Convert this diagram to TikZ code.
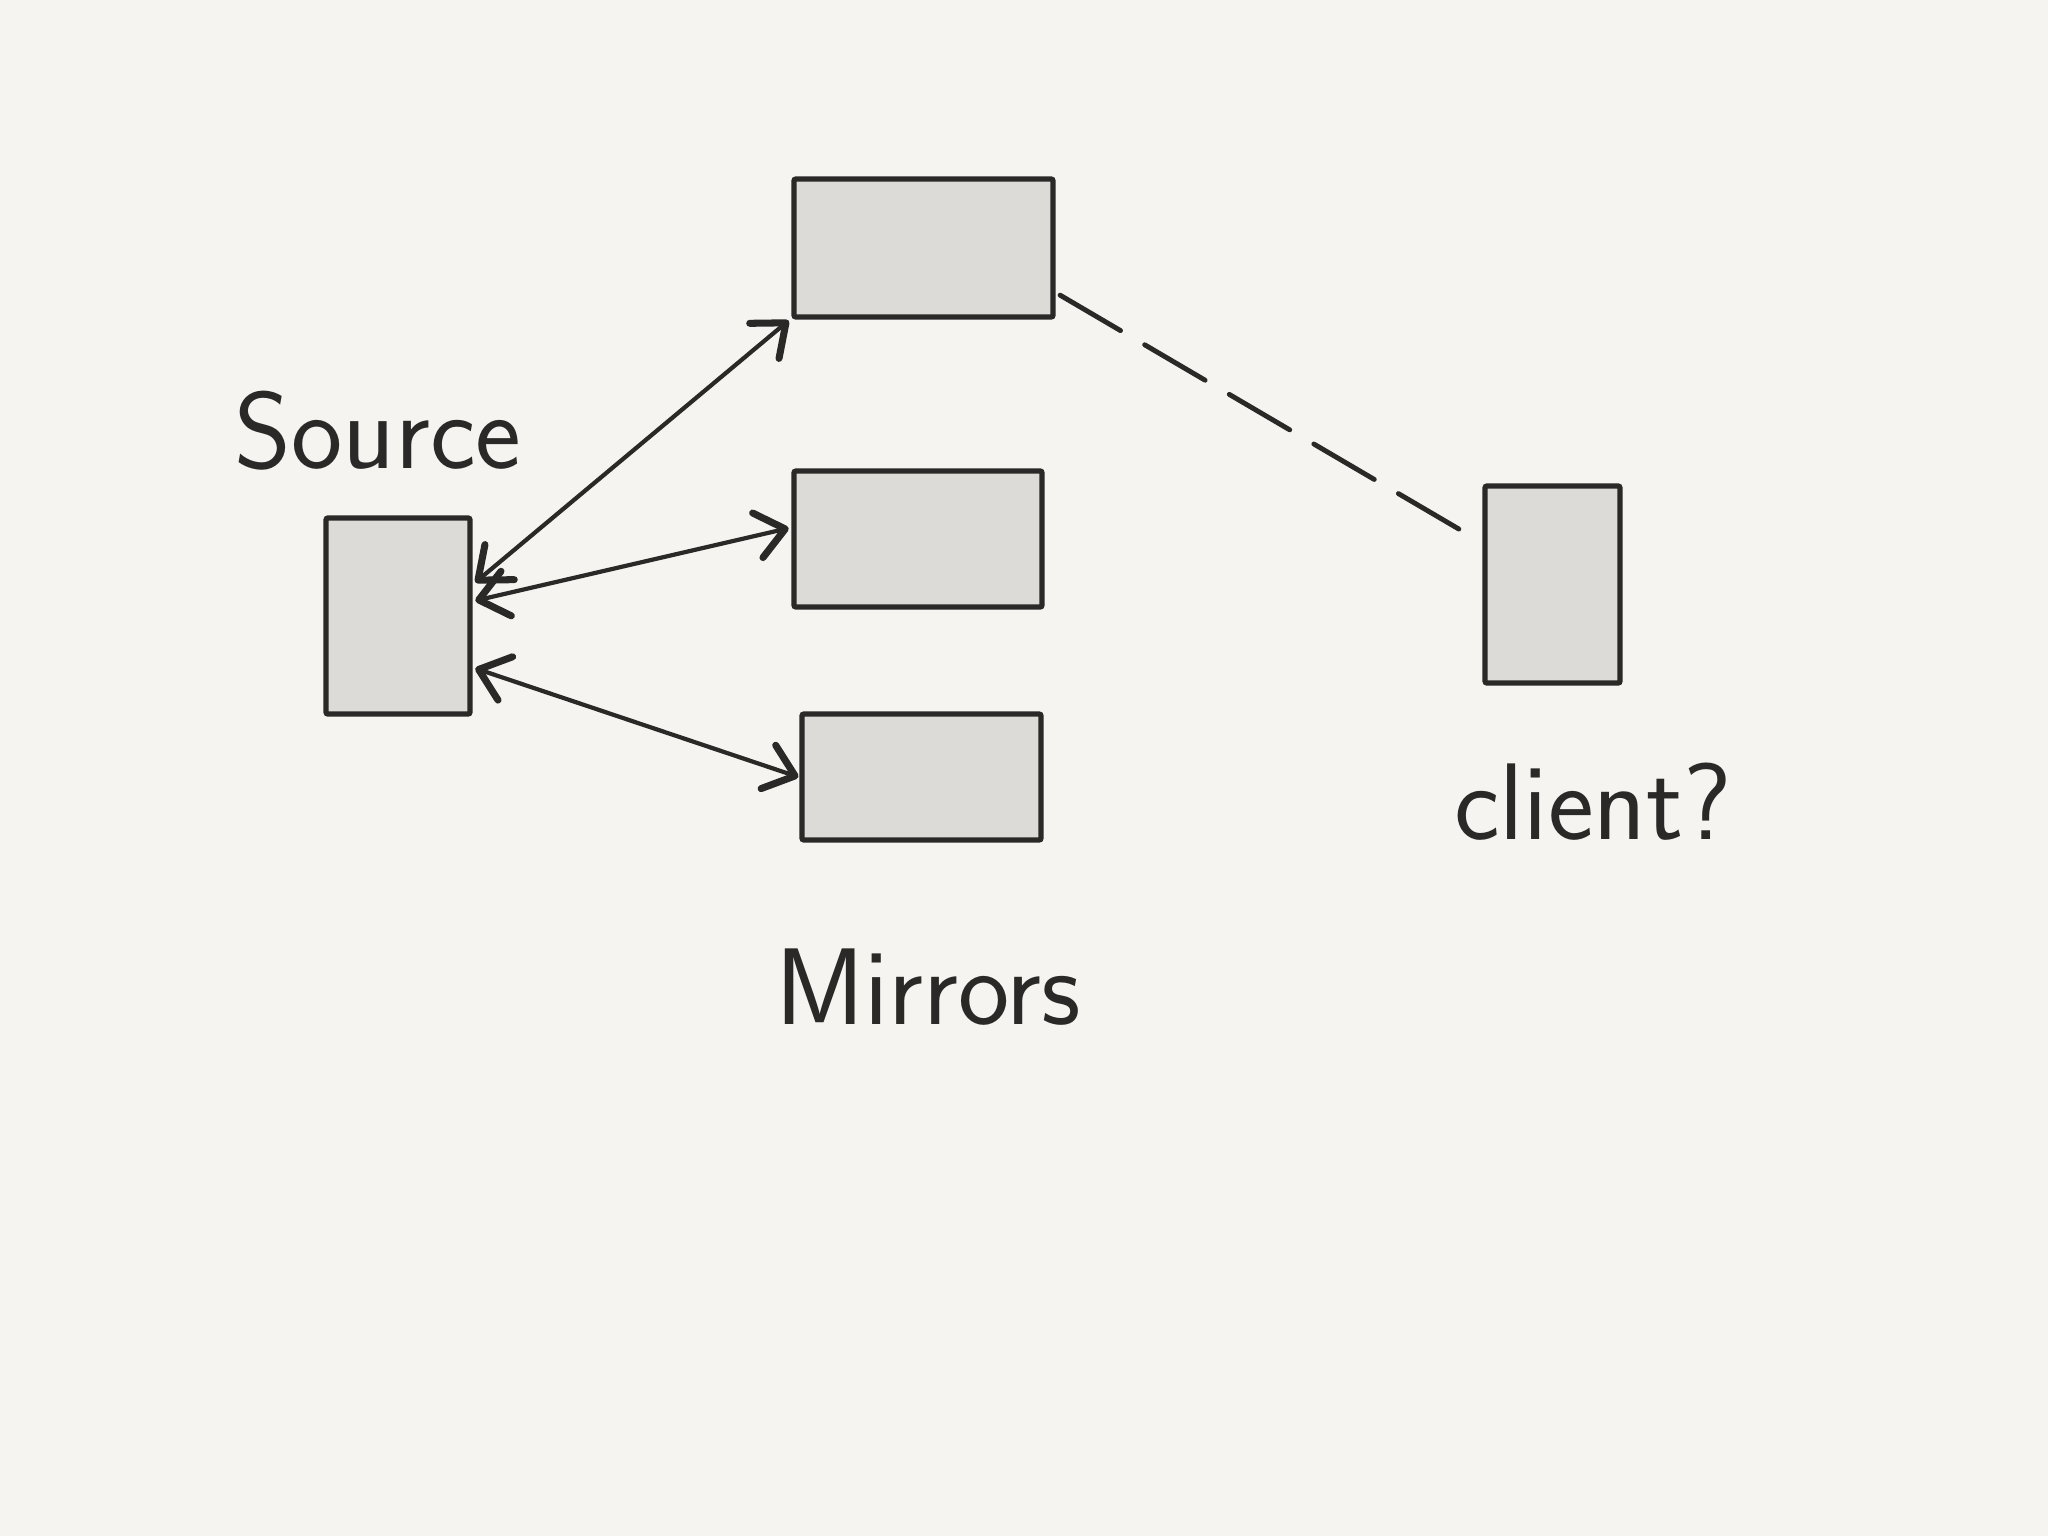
\documentclass[tikz,border=0pt]{standalone}
\usetikzlibrary{arrows.meta}
\definecolor{paper}{HTML}{F5F4F0}
\definecolor{boxgray}{HTML}{DCDBD8}
\definecolor{ink}{HTML}{2A2927}
\begin{document}
\begin{tikzpicture}[x=0.01cm, y=-0.01cm,
    server/.style={draw=ink, fill=boxgray, line width=1.5pt, rounded corners=0.6pt, inner sep=0pt, outer sep=0pt},
    barb/.tip={Straight Barb[length=8pt,width=13pt,line width=2pt,round]},
    link/.style={draw=ink, line width=1.2pt, line cap=round, {barb}-{barb}},
    handtext/.style={text=ink, font=\sffamily\fontsize{31}{37}\selectfont}]
      \fill[paper] (0,0) rectangle (2048,1536);
      \useasboundingbox (0,0) rectangle (2048,1536);
      %
      \node[server, minimum width=1.44cm, minimum height=1.96cm] (src) at (398,616) {};
      \node[server, minimum width=2.59cm, minimum height=1.38cm] (m1) at (923.5,248) {};
      \node[server, minimum width=2.48cm, minimum height=1.36cm] (m2) at (918,539) {};
      \node[server, minimum width=2.39cm, minimum height=1.26cm] (m3) at (921.5,777) {};
      \node[server, minimum width=1.35cm, minimum height=1.97cm] (cl) at (1552.5,584.5) {};
      %
      \node[handtext] (srctext) at (378,431) {Source};
      \node[handtext] (mirtext) at (928,987) {Mirrors};
      \node[handtext] (cltext) at (1593,802) {client?};
      %
      \draw[link] ([shift={(1.5pt,0pt)}]src.25) -- ([shift={(-1.5pt,-1pt)}]m1.south west);
      \draw[link] ([shift={(1.5pt,0pt)}]src.12) -- ([shift={(-1.5pt,0pt)}]m2.175);
      \draw[link] ([shift={(1.5pt,0pt)}]src.-36) -- ([shift={(-1pt,0pt)}]m3.west);
      %
      \draw[ink, line width=1.4pt, line cap=round, dash pattern=on 0.7cm off 0.28cm]
        ([shift={(2pt,0pt)}]m1.-20) -- ([shift={(-1pt,0pt)}]cl.148);
      %
    \end{tikzpicture}
\end{document}
